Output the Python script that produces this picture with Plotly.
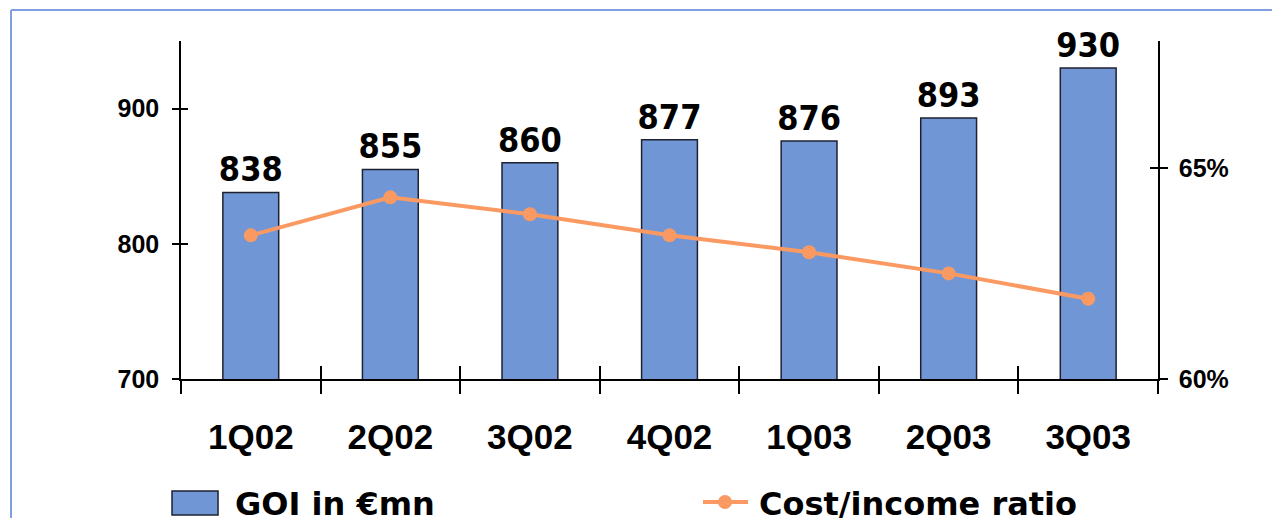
import plotly.graph_objects as go

# Quarterly gross operating income (EUR mn) and cost/income ratio (%)
quarters = ["1Q02", "2Q02", "3Q02", "4Q02", "1Q03", "2Q03", "3Q03"]
goi = [838, 855, 860, 877, 876, 893, 930]
cost_income = [63.4, 64.3, 63.9, 63.4, 63.0, 62.5, 61.9]

left_ticks = [700, 800, 900]
right_ticks = [60, 65]
right_ticktext = ["60%", "65%"]

BAR_FILL = "#7196d5"
BAR_EDGE = "#1e2230"
LINE_COL = "#fa9a62"
FRAME_COL = "#7f9fe0"
VALUE_FONT = dict(family="DejaVu Sans Condensed", size=34, color="black",
                  weight="bold")
TICK_FONT = "Liberation Sans"

fig = go.Figure()

fig.add_trace(go.Bar(
    x=quarters, y=goi, name="GOI in €mn",
    marker=dict(color=BAR_FILL, line=dict(color=BAR_EDGE, width=1.5)),
    text=[str(v) for v in goi], textposition="outside",
    textfont=VALUE_FONT, cliponaxis=False, constraintext="none",
    hoverinfo="skip",
))

fig.add_trace(go.Scatter(
    x=quarters, y=cost_income, name="Cost/income ratio", yaxis="y2",
    mode="lines+markers",
    line=dict(color=LINE_COL, width=4),
    marker=dict(color=LINE_COL, size=14),
    cliponaxis=False, hoverinfo="skip",
))

# Empty traces that carry the inward half of the crossing tick marks
fig.add_trace(go.Scatter(x=[None], y=[None], xaxis="x2", yaxis="y3",
                         showlegend=False, hoverinfo="skip"))
fig.add_trace(go.Scatter(x=[None], y=[None], xaxis="x2", yaxis="y4",
                         showlegend=False, hoverinfo="skip"))

n = len(quarters)
boundaries = [i - 0.5 for i in range(n + 1)]

fig.update_layout(
    width=1272, height=518,
    margin=dict(l=181, r=114, t=41, b=139),
    paper_bgcolor="white", plot_bgcolor="white",
    showlegend=False, bargap=0.6,
    xaxis=dict(
        type="category", categoryarray=quarters, range=[-0.5, n - 0.5],
        tickson="boundaries", ticks="outside", ticklen=13, tickwidth=1.5,
        tickcolor="black", showline=True, linecolor="black", linewidth=1.5,
        showgrid=False, zeroline=False, ticklabelstandoff=26,
        tickfont=dict(family=TICK_FONT, size=35, color="black", weight="bold"),
    ),
    xaxis2=dict(
        overlaying="x", range=[-0.5, n - 0.5], tickvals=boundaries,
        ticks="inside", ticklen=13, tickwidth=1.5, tickcolor="black",
        showticklabels=False, showline=False, showgrid=False, zeroline=False,
        anchor="y3",
    ),
    yaxis=dict(
        range=[700, 950], tickvals=left_ticks, ticks="outside", ticklen=7,
        tickwidth=1.5, tickcolor="black", showline=True, linecolor="black",
        linewidth=1.5, showgrid=False, zeroline=False, ticklabelstandoff=8,
        tickfont=dict(family=TICK_FONT, size=25, color="black", weight="bold"),
    ),
    yaxis2=dict(
        overlaying="y", side="right", range=[60, 68], tickvals=right_ticks,
        ticktext=right_ticktext, ticks="outside", ticklen=8, tickwidth=1.5,
        tickcolor="black", showline=True, linecolor="black", linewidth=1.5,
        showgrid=False, zeroline=False, ticklabelstandoff=6,
        tickfont=dict(family=TICK_FONT, size=25, color="black", weight="bold"),
    ),
    yaxis3=dict(
        overlaying="y", range=[700, 950], tickvals=left_ticks, ticks="inside",
        ticklen=7, tickwidth=1.5, tickcolor="black", showticklabels=False,
        showline=False, showgrid=False, zeroline=False, anchor="x2",
    ),
    yaxis4=dict(
        overlaying="y", side="right", range=[60, 68], tickvals=right_ticks,
        ticks="inside", ticklen=8, tickwidth=1.5, tickcolor="black",
        showticklabels=False, showline=False, showgrid=False, zeroline=False,
        anchor="x2",
    ),
)

# Page frame along the top and left edges
fig.add_shape(type="line", xref="paper", yref="paper",
              x0=-0.174, x1=1.2, y0=1.0917, y1=1.0917,
              line=dict(color=FRAME_COL, width=2))
fig.add_shape(type="line", xref="paper", yref="paper",
              x0=-0.174, x1=-0.174, y0=1.0917, y1=-0.5,
              line=dict(color=FRAME_COL, width=2))

# Legend drawn below the axis
LEG_FONT = dict(family="DejaVu Sans", size=32, color="black", weight="bold")
fig.add_shape(type="rect", xref="paper", yref="paper",
              x0=-0.0092, x1=0.0379, y0=-0.3314, y1=-0.4024,
              fillcolor=BAR_FILL, line=dict(color=BAR_EDGE, width=1.5))
fig.add_annotation(xref="paper", yref="paper", x=0.0532, y=-0.37,
                   xanchor="left", yanchor="middle", showarrow=False,
                   text="GOI in €mn", font=LEG_FONT)
fig.add_shape(type="line", xref="paper", yref="paper",
              x0=0.5343, x1=0.5803, y0=-0.364, y1=-0.364,
              line=dict(color=LINE_COL, width=4))
fig.add_shape(type="circle", xref="paper", yref="paper",
              xsizemode="pixel", ysizemode="pixel",
              xanchor=0.5568, yanchor=-0.364, x0=-7, x1=7, y0=-7, y1=7,
              fillcolor=LINE_COL, line=dict(width=0))
fig.add_annotation(xref="paper", yref="paper", x=0.5896, y=-0.37,
                   xanchor="left", yanchor="middle", showarrow=False,
                   text="Cost/income ratio", font=LEG_FONT)

fig.write_html("out.html")
